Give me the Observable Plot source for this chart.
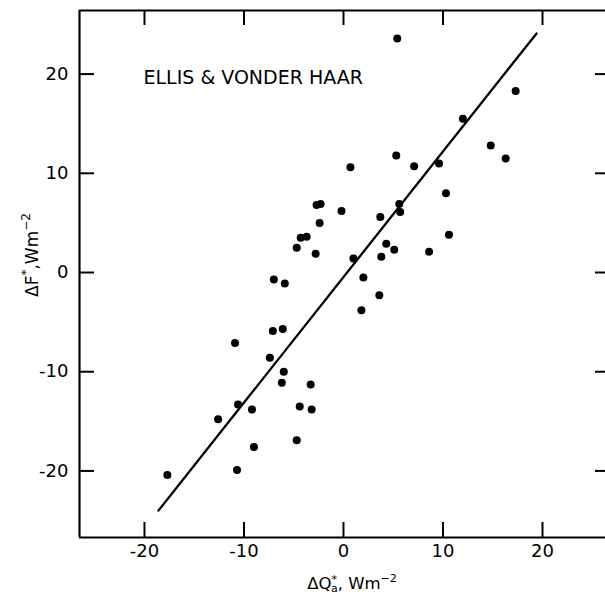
<!DOCTYPE html>
<html><head><meta charset="utf-8">
<script src="https://cdn.jsdelivr.net/npm/d3@7"></script>
<script src="https://cdn.jsdelivr.net/npm/@observablehq/plot@0.6"></script>
<style>body{margin:0;background:#fff;overflow:hidden;} svg{display:block;}</style>
</head><body><div id="chart"></div>
<script>
// ΔQ*a (x) and ΔF* (y), W m^-2
const dQ = [-17.7, -12.6, -10.9, -10.6, -10.7, -9.2, -9.0, -7.4, -7.1, -6.1, -6.0, -6.2, -7.0, -5.9,
  -4.7, -4.4, -3.3, -3.2, -4.7, -4.3, -3.7, -2.8, -2.7, -2.3, -2.4, -0.2, 0.7, 1.0, 2.0, 1.8,
  3.6, 3.8, 3.7, 4.3, 5.1, 5.3, 5.4, 5.6, 5.7, 7.1, 8.6, 9.6, 10.3, 10.6, 12.0, 14.8, 16.3, 17.3];
const dF = [-20.4, -14.8, -7.1, -13.3, -19.9, -13.8, -17.6, -8.6, -5.9, -5.7, -10.0, -11.1, -0.7, -1.1,
  -16.9, -13.5, -11.3, -13.8, 2.5, 3.5, 3.6, 1.9, 6.8, 6.9, 5.0, 6.2, 10.6, 1.4, -0.5, -3.8,
  -2.3, 1.6, 5.6, 2.9, 2.3, 11.8, 23.6, 6.9, 6.1, 10.7, 2.1, 11.0, 8.0, 3.8, 15.5, 12.8, 11.5, 18.3];
// regression line end points
const fitQ = [-18.6, 19.4];
const fitF = [-24.0, 24.1];
const xTicks = [-20, -10, 0, 10, 20];
const yTicks = [-20, -10, 0, 10, 20];
const xDomain = [-26.53, 26.33];
const yDomain = [-26.71, 26.41];
const annotation = "ELLIS & VONDER HAAR";

const points = dQ.map((q, i) => ({q, f: dF[i]}));
const fit = fitQ.map((q, i) => ({q, f: fitF[i]}));

const W = 605, H = 595, mL = 79, mR = 0, mT = 10, mB = 58;
const innerW = W - mL - mR, innerH = H - mT - mB;
const font = "'DejaVu Sans', sans-serif";

const plot = Plot.plot({
  width: W, height: H, marginLeft: mL, marginRight: mR, marginTop: mT, marginBottom: mB,
  style: {fontFamily: font, background: "white", color: "black", overflow: "hidden"},
  x: {domain: xDomain, axis: null},
  y: {domain: yDomain, axis: null},
  marks: [
    Plot.ruleX([xDomain[0]], {stroke: "black", strokeWidth: 2.2}),
    Plot.ruleY(yDomain, {stroke: "black", strokeWidth: 2.2}),
    Plot.tickX(xTicks, {x: d => d, insetTop: innerH - 15, stroke: "black", strokeWidth: 2}),
    Plot.tickX(xTicks, {x: d => d, insetBottom: innerH - 15, stroke: "black", strokeWidth: 2}),
    Plot.tickY(yTicks, {y: d => d, insetRight: innerW - 15, stroke: "black", strokeWidth: 2}),
    Plot.tickY(yTicks, {y: d => d, insetLeft: innerW - 10, stroke: "black", strokeWidth: 2}),
    Plot.text(xTicks, {x: d => d, frameAnchor: "bottom", dy: 19, text: d => String(d), fontSize: 18, fill: "black"}),
    Plot.text(yTicks, {y: d => d, frameAnchor: "left", dx: -11, textAnchor: "end", text: d => String(d), fontSize: 18, fill: "black"}),
    Plot.text([annotation], {frameAnchor: "top-left", dx: 64, dy: 60, textAnchor: "start", text: d => d, fontSize: 19, fill: "black"}),
    Plot.line(fit, {x: "q", y: "f", stroke: "black", strokeWidth: 2.3}),
    Plot.dot(points, {x: "q", y: "f", r: 4, fill: "black", stroke: "none"})
  ]
});
document.getElementById("chart").appendChild(plot);

const svg = d3.select(plot);
const xl = svg.append("text").attr("x", 352).attr("y", 589).attr("text-anchor", "middle")
  .attr("font-family", font).attr("font-size", 16.5).attr("fill", "black");
xl.append("tspan").text("ΔQ");
xl.append("tspan").attr("dy", -6).attr("font-size", 11).text("*");
xl.append("tspan").attr("dx", -6).attr("dy", 9).attr("font-size", 11).text("a");
xl.append("tspan").attr("dy", -3).text(", Wm");
xl.append("tspan").attr("dy", -7).attr("font-size", 11).text("−2");

const yl = svg.append("text").attr("transform", "translate(38,255) rotate(-90)").attr("text-anchor", "middle")
  .attr("font-family", font).attr("font-size", 17).attr("fill", "black");
yl.append("tspan").text("ΔF");
yl.append("tspan").attr("dy", -8).attr("font-size", 12).text("*");
yl.append("tspan").attr("dy", 8).text(",Wm");
yl.append("tspan").attr("dy", -8).attr("font-size", 12).text("−2");
</script></body></html>
